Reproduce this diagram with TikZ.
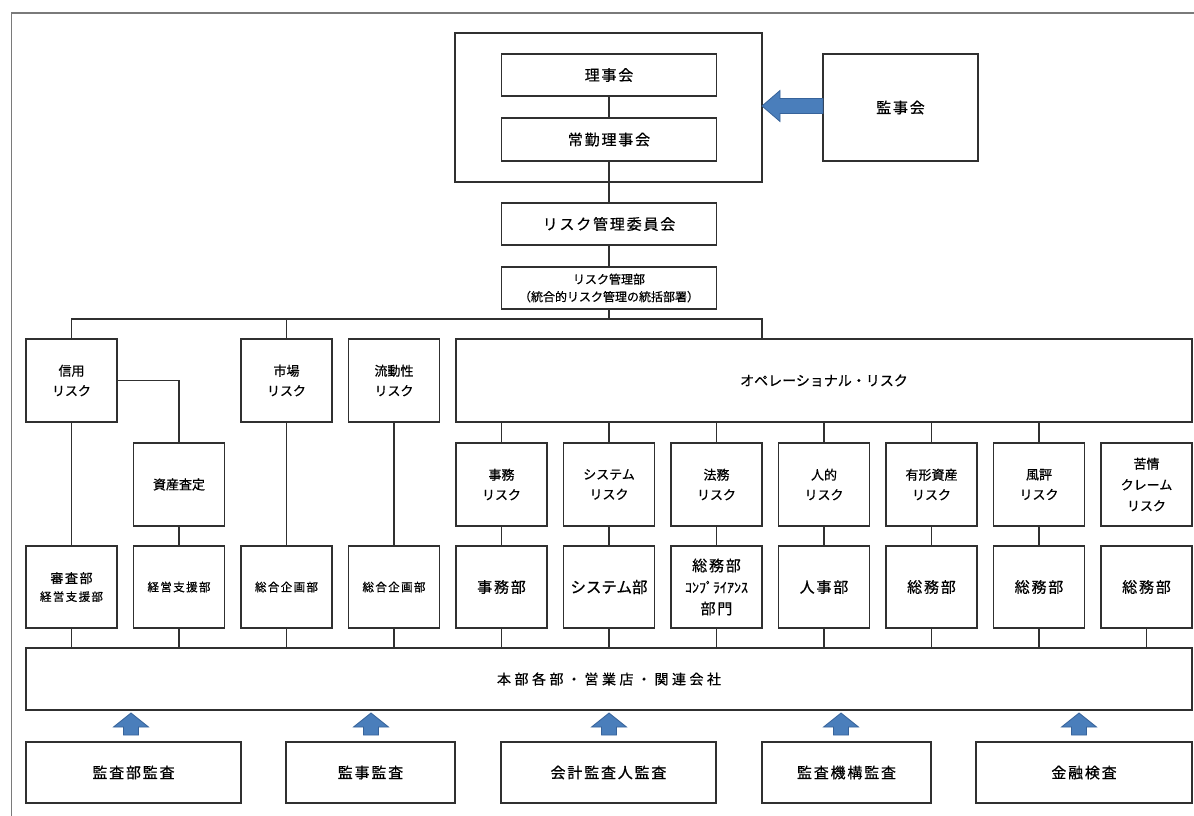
\documentclass[tikz,border=0pt]{standalone}
\usepackage{fontspec}
\newfontfamily\jp[FakeBold=0.6]{Noto Sans CJK JP}
\newfontfamily\jpw[LetterSpace=12,FakeBold=0.6]{Noto Sans CJK JP}
\newfontfamily\jpww[LetterSpace=25,FakeBold=0.6]{Noto Sans CJK JP}
\usetikzlibrary{calc}
\definecolor{boxline}{HTML}{303030}
\definecolor{frameline}{HTML}{7A7A7A}
\definecolor{arrowfill}{HTML}{4A7EBB}
\definecolor{arrowline}{HTML}{37639A}
\tikzset{
  box/.style={draw=boxline,line width=1.3pt,fill=white,inner sep=0pt,outer sep=0pt,align=center,text=black},
  big/.style={box,font=\jpw\fontsize{15}{20}\selectfont},
  mid/.style={box,font=\jp\fontsize{13}{20}\selectfont},
  small/.style={box,font=\jpw\fontsize{11.5}{18}\selectfont},
  colbox/.style={minimum width=91pt},
  rowone/.style={minimum height=83pt},
  rowtwo/.style={minimum height=83pt},
  rowthree/.style={minimum height=82pt},
  link/.style={draw=boxline,line width=1.3pt},
  blockarrow/.style={fill=arrowfill,draw=arrowline,line width=0.8pt},
  uparr/.pic={\path[blockarrow] (0,0) -- (17.5,14) -- (7.5,14) -- (7.5,22) -- (-7.5,22) -- (-7.5,14) -- (-17.5,14) -- cycle;}
}
\begin{document}
\begin{tikzpicture}[x=1pt,y=-1pt]
\useasboundingbox (0,0) rectangle (1194,816);
\draw[frameline,line width=1.5pt] (11.5,816) -- (11.5,13) -- (1194,13);

% top
\node[box,minimum width=307pt,minimum height=149pt] (grp) at (608.5,107.5) {};
\node[big,minimum width=215pt,minimum height=42pt] (riji) at (609,75) {理事会};
\node[big,minimum width=215pt,minimum height=43pt] (joukin) at (609,139.5) {常勤理事会};
\node[big,minimum width=155pt,minimum height=107pt] (kanji) at (900.5,107.5) {監事会};
\node[big,minimum width=215pt,minimum height=42pt] (rkc) at (609,224) {リスク管理委員会};
\node[box,minimum width=215pt,minimum height=42pt,font=\jp\fontsize{12}{17.5}\selectfont] (rkb) at (609,288) {リスク管理部\\（統合的リスク管理の統括部署）};

% row 1
\node[mid,colbox,rowone] (shinyo) at (71.5,380.5) {信用\\リスク};
\node[mid,colbox,rowone] (ichiba) at (286.5,380.5) {市場\\リスク};
\node[mid,colbox,rowone] (ryudo) at (394,380.5) {流動性\\リスク};
\node[box,minimum width=736pt,minimum height=83pt,font=\jp\fontsize{14}{20}\selectfont] (ope) at (824,380.5) {オペレーショナル・リスク};

% row 2
\node[mid,colbox,rowtwo] (shisan) at (179,484.5) {資産査定};
\node[mid,colbox,rowtwo] (jimuR) at (501.5,484.5) {事務\\リスク};
\node[mid,colbox,rowtwo] (sysR) at (609,484.5) {システム\\リスク};
\node[mid,colbox,rowtwo] (houR) at (716.5,484.5) {法務\\リスク};
\node[mid,colbox,rowtwo] (jintekiR) at (824,484.5) {人的\\リスク};
\node[mid,colbox,rowtwo] (yukeiR) at (931.5,484.5) {有形資産\\リスク};
\node[mid,colbox,rowtwo] (fuhyoR) at (1039,484.5) {風評\\リスク};
\node[mid,colbox,rowtwo,font=\jp\fontsize{13}{21}\selectfont] (kujoR) at (1146.5,484.5) {苦情\\クレーム\\リスク};

% row 3
\node[small,colbox,rowthree] (shinsa) at (71.5,587) {{\fontsize{13}{18}\selectfont 審査部}\\経営支援部};
\node[small,colbox,rowthree] (keiei) at (179,587) {経営支援部};
\node[small,colbox,rowthree] (sogo1) at (286.5,587) {総合企画部};
\node[small,colbox,rowthree] (sogo2) at (394,587) {総合企画部};
\node[big,colbox,rowthree] (jimubu) at (501.5,587) {事務部};
\node[big,colbox,rowthree,font=\jp\fontsize{15.5}{20}\selectfont] (sysbu) at (609,587) {システム部};
\node[big,colbox,rowthree,font=\jpw\fontsize{15}{21.5}\selectfont] (soumu) at (716.5,587) {総務部\\{\jp\fontsize{14}{21.5}\selectfont ｺﾝﾌﾟﾗｲｱﾝｽ}\\部門};
\node[big,colbox,rowthree] (jinji) at (824,587) {人事部};
\node[big,colbox,rowthree] (soumu2) at (931.5,587) {総務部};
\node[big,colbox,rowthree] (soumu3) at (1039,587) {総務部};
\node[big,colbox,rowthree] (soumu4) at (1146.5,587) {総務部};

% big box
\node[box,minimum width=1166pt,minimum height=62pt,font=\jpww\fontsize{14}{20}\selectfont] (honbu) at (609,679) {本部各部・営業店・関連会社};

% bottom
\node[big,minimum width=215pt,minimum height=61pt] (b1) at (133.5,772.5) {監査部監査};
\node[big,minimum width=169pt,minimum height=61pt] (b2) at (370.5,772.5) {監事監査};
\node[big,minimum width=215pt,minimum height=61pt] (b3) at (608.5,772.5) {会計監査人監査};
\node[big,minimum width=169pt,minimum height=61pt] (b4) at (846.5,772.5) {監査機構監査};
\node[big,minimum width=216pt,minimum height=61pt] (b5) at (1084,772.5) {金融検査};

% connectors
\draw[link] (riji.south) -- (joukin.north);
\draw[link] (joukin.south) -- (rkc.north);
\draw[link] (rkc.south) -- (rkb.north);
\coordinate (bus) at (609,319);
\draw[link] (rkb.south) -- (bus);
\draw[link] (shinyo.north) |- (bus) -| (ope.north -| houR.east);
\draw[link] (ichiba.north) -- (ichiba.north |- bus);
\draw[link] (shinyo.south) -- (shinsa.north);
\draw[link] (shinyo.east) -| (shisan.north);
\draw[link] (shisan.south) -- (keiei.north);
\draw[link] (ichiba.south) -- (sogo1.north);
\draw[link] (ryudo.south) -- (sogo2.north);
\foreach \a/\b in {jimuR/jimubu,sysR/sysbu,houR/soumu,jintekiR/jinji,yukeiR/soumu2,fuhyoR/soumu3}{
  \draw[link] (\a.north |- ope.south) -- (\a.north);
  \draw[link] (\a.south) -- (\b.north);
}
\foreach \n in {shinsa,keiei,sogo1,sogo2,jimubu,sysbu,soumu,jinji,soumu2,soumu3,soumu4}
  \draw[link] (\n.south) -- (\n.south |- honbu.north);

% block arrows
\path[blockarrow] (grp.east |- 0,106) -- (780,90.5) -- (780,98.5) -- (kanji.west |- 0,98.5) -- (kanji.west |- 0,113.5) -- (780,113.5) -- (780,121.5) -- cycle;
\foreach \x in {131,371,609,841,1079}
  \pic at (\x,713) {uparr};
\end{tikzpicture}
\end{document}
